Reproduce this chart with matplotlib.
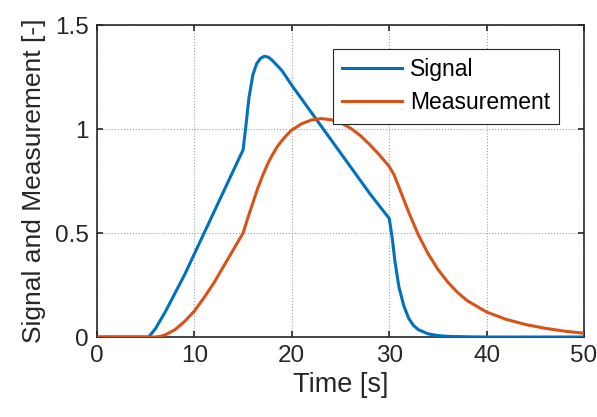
import numpy as np
import matplotlib
matplotlib.use("Agg")
import matplotlib.pyplot as plt

# Data
sig_t = [0, 5.0, 5.3, 6, 7, 8, 9, 10, 11, 12, 13, 14, 15, 15.3, 15.6, 16.0, 16.4, 16.8, 17.2, 17.6, 18, 19, 20, 22, 24, 26, 28, 29, 30, 30.3, 30.6, 31, 31.5, 32, 32.5, 33, 34, 35, 36, 38, 40, 45, 50]
sig_v = [0, 0, 0, 0.04, 0.12, 0.21, 0.30, 0.40, 0.50, 0.60, 0.70, 0.80, 0.90, 1.02, 1.15, 1.26, 1.315, 1.34, 1.35, 1.345, 1.33, 1.28, 1.21, 1.08, 0.95, 0.82, 0.69, 0.63, 0.57, 0.48, 0.36, 0.24, 0.15, 0.09, 0.055, 0.035, 0.015, 0.007, 0.003, 0.001, 0, 0, 0]

meas_t = [0, 6.0, 6.5, 7, 8, 9, 10, 11, 12, 13, 14, 15, 15.5, 16, 16.5, 17, 17.5, 18, 18.5, 19, 19.5, 20, 21, 22, 23, 24, 25, 26, 27, 28, 29, 30, 30.5, 31, 32, 33, 34, 35, 36, 37, 38, 40, 42, 44, 46, 48, 50]
meas_v = [0, 0, 0.003, 0.01, 0.035, 0.075, 0.125, 0.19, 0.26, 0.34, 0.42, 0.50, 0.575, 0.645, 0.715, 0.775, 0.83, 0.875, 0.915, 0.945, 0.972, 0.995, 1.025, 1.043, 1.05, 1.045, 1.03, 1.005, 0.97, 0.925, 0.875, 0.82, 0.78, 0.72, 0.60, 0.49, 0.40, 0.325, 0.265, 0.215, 0.175, 0.12, 0.085, 0.06, 0.042, 0.028, 0.018]

xticks = [0, 10, 20, 30, 40, 50]
yticks = [0, 0.5, 1, 1.5]
ytick_labels = ["0", "0.5", "1", "1.5"]

plt.rcParams['font.family'] = ['Liberation Sans', 'DejaVu Sans']

fig = plt.figure(figsize=(5.97, 4.17), dpi=100)
ax = fig.add_axes([97/597, 1 - 337/417, (584-97)/597, (337-25)/417])

ax.plot(sig_t, sig_v, color='#0072BD', lw=2.2, label='Signal', zorder=3)
ax.plot(meas_t, meas_v, color='#D95319', lw=2.2, label='Measurement', zorder=3)

ax.set_xlim(0, 50)
ax.set_ylim(0, 1.5)
ax.set_xticks(xticks)
ax.set_yticks(yticks)
ax.set_yticklabels(ytick_labels)
ax.grid(True, linestyle=':', color='#a0a0a0', linewidth=0.8)
ax.tick_params(direction='in', top=True, right=True, length=4, width=1.2,
               labelsize=17.5, colors='#262626', pad=6)
for s in ax.spines.values():
    s.set_linewidth(1.2)
    s.set_color('#262626')

ax.set_xlabel('Time [s]', fontsize=19.5, color='#262626', labelpad=3)
ax.set_ylabel('Signal and Measurement [-]', fontsize=19, color='#262626', labelpad=6)

leg = ax.legend(loc='upper right', bbox_to_anchor=((559-97)/487, (337-49)/312), fontsize=16.5,
                borderaxespad=0, fancybox=False, framealpha=1, edgecolor='#262626',
                handlelength=2.6, handletextpad=0.35, borderpad=0.4, labelspacing=0.45)
leg.get_frame().set_linewidth(0.8)

fig.savefig('out.png', dpi=100)
